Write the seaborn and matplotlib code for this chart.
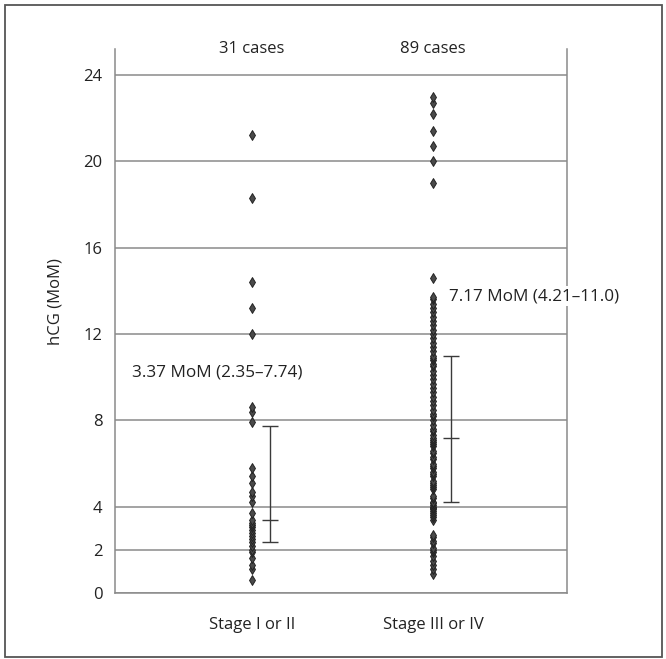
import matplotlib
matplotlib.use("Agg")
import matplotlib.pyplot as plt
import matplotlib.patches as patches
import seaborn as sns
import pandas as pd
import numpy as np

# data
categories = ["Stage I or II", "Stage III or IV"]
case_labels = ["31 cases", "89 cases"]

stage_early = [0.6, 1.1, 1.3, 1.6, 1.9, 2.0, 2.2, 2.35, 2.5, 2.65, 2.8, 2.9,
               3.05, 3.15, 3.25, 3.37, 3.7, 4.2, 4.5, 4.7, 5.1, 5.4, 5.8,
               7.9, 8.4, 8.6, 12.0, 13.2, 14.4, 18.3, 21.2]

stage_late = [0.9, 1.1, 1.3, 1.5, 1.7, 1.9, 2.0, 2.1, 2.3, 2.4, 2.6, 2.7,
              3.4, 3.5, 3.6, 3.7, 3.8, 3.9, 3.95, 4.0, 4.1, 4.15, 4.21,
              4.4, 4.5, 4.8, 4.9, 5.0, 5.1, 5.2, 5.4, 5.5, 5.6, 5.8, 5.9,
              6.0, 6.2, 6.3, 6.5, 6.6, 6.8, 6.9, 7.0, 7.1, 7.17,
              7.3, 7.5, 7.6, 7.8, 8.0, 8.2, 8.3, 8.5, 8.7, 8.9, 9.1, 9.3,
              9.5, 9.7, 9.9, 10.1, 10.3, 10.5, 10.6, 10.8, 10.9, 11.0,
              11.2, 11.4, 11.6, 11.8, 12.0, 12.2, 12.4, 12.6, 12.8, 13.0,
              13.2, 13.4, 13.6, 13.7, 14.6,
              19.0, 20.0, 20.7, 21.4, 22.2, 22.7, 23.0]

medians = [3.37, 7.17]
q_low = [2.35, 4.21]
q_high = [7.74, 11.0]
summary_labels = ["3.37 MoM (2.35\u20137.74)", "7.17 MoM (4.21\u201311.0)"]

y_ticks = [0, 2, 4, 8, 12, 16, 20, 24]

df = pd.DataFrame({
    "stage": [categories[0]] * len(stage_early) + [categories[1]] * len(stage_late),
    "hcg": stage_early + stage_late,
})

sns.set_theme(style="white")
plt.rcParams["font.family"] = ["Open Sans", "DejaVu Sans"]

fig = plt.figure(figsize=(6.66, 6.59), dpi=100)
ax = fig.add_axes([0.1727, 0.1001, 0.6787, 0.8255])

grid_col = "#8a8a8a"
for t in y_ticks:
    ax.axhline(t, color=grid_col, lw=1.1, zorder=0)

sns.stripplot(data=df, x="stage", y="hcg", order=categories, jitter=False,
              marker="d", size=5, color="#4a4a4a", edgecolor="#222222",
              linewidth=0.7, ax=ax, zorder=3)

# median with interquartile range, drawn beside each column
x_bar = np.arange(len(categories)) + 0.1
med = np.array(medians)
err = np.array([med - np.array(q_low), np.array(q_high) - med])
ax.errorbar(x_bar, med, yerr=err, fmt="none", ecolor="#3a3a3a",
            elinewidth=1.0, capsize=5.5, capthick=1.0, zorder=2)
ax.plot(x_bar, med, linestyle="none", marker="_", markersize=11,
        markeredgewidth=1.0, color="#3a3a3a", zorder=2)

ax.set_xlim(-0.757, 1.74)
ax.set_ylim(0, 25.2)
ax.set_yticks(y_ticks)
ax.set_xlabel("")
ax.set_ylabel("hCG (MoM)", fontsize=12, color="#222222")
ax.yaxis.set_label_coords(-0.113, 0.535)

ax.tick_params(axis="y", length=0, pad=9, labelsize=12, labelcolor="#222222")
ax.tick_params(axis="x", direction="in", length=5, width=1, color=grid_col,
               pad=17, labelsize=12, labelcolor="#222222")

for side in ["left", "right", "bottom"]:
    ax.spines[side].set_visible(True)
    ax.spines[side].set_color(grid_col)
    ax.spines[side].set_linewidth(1.1)
ax.spines["top"].set_visible(False)

for i, lab in enumerate(case_labels):
    ax.text(i, 25.2, lab, ha="center", va="center", fontsize=12,
            color="#222222", clip_on=False)

ax.text(-0.663, 10.2, summary_labels[0], ha="left", va="center",
        fontsize=12.3, color="#222222")
ax.text(1.088, 13.75, summary_labels[1], ha="left", va="center",
        fontsize=12.3, color="#222222", clip_on=False, zorder=5,
        bbox=dict(facecolor="white", edgecolor="none", pad=1.5))

# outer frame of the figure
fig.patches.append(patches.Rectangle((0.008, 0.003), 0.986, 0.989,
                                     transform=fig.transFigure, fill=False,
                                     edgecolor="#555555", lw=1.3))

fig.savefig("out.png", dpi=100)
